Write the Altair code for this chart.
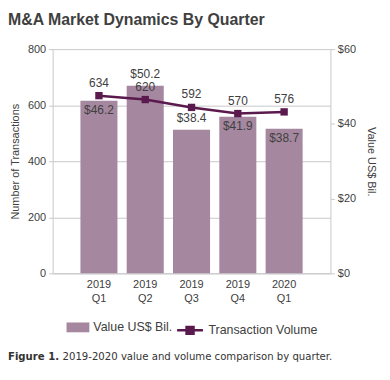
import altair as alt
import pandas as pd

quarters = ["2019 Q1", "2019 Q2", "2019 Q3", "2019 Q4", "2020 Q1"]
value_bil = [46.2, 50.2, 38.4, 41.9, 38.7]
volume = [634, 620, 592, 570, 576]
value_labels_above = ["2019 Q2", "2019 Q3"]

df = pd.DataFrame({
    "quarter": quarters,
    "value": value_bil,
    "volume": volume,
    "bar_series": ["Value US$ Bil."] * len(quarters),
    "line_series": ["Transaction Volume"] * len(quarters),
})

BAR = "#a5889f"
LINE = "#5b1a4e"
TXT = "#404040"
GRID = "#c8c8c8"
FONT = "Liberation Sans"

base = alt.Chart(df)

x = alt.X(
    "quarter:N", sort=quarters, title=None,
    scale=alt.Scale(paddingInner=0.2, paddingOuter=0.6),
    axis=alt.Axis(labelExpr="split(datum.label, ' ')", labelAngle=0, ticks=False,
                  domainColor=GRID, labelColor=TXT, labelFontSize=11, labelFont=FONT,
                  labelPadding=5, labelLineHeight=14),
)

y_val = alt.Y(
    "value:Q", scale=alt.Scale(domain=[0, 60]),
    axis=alt.Axis(orient="right", values=[0, 20, 40, 60], labelExpr="'$' + datum.value",
                  title="Value US$ Bil.", grid=False, domainColor=GRID, tickColor=GRID,
                  tickSize=4, labelColor=TXT, labelFontSize=11, labelFont=FONT,
                  titleFont=FONT, titleFontSize=11, titleFontWeight="normal",
                  titleColor=TXT, titlePadding=10, labelPadding=3),
)

y_vol = alt.Y(
    "volume:Q", scale=alt.Scale(domain=[0, 800]),
    axis=alt.Axis(orient="left", values=[0, 200, 400, 600, 800],
                  title="Number of Transactions", grid=True, gridColor=GRID,
                  domainColor=GRID, tickColor=GRID, tickSize=4, labelColor=TXT,
                  labelFontSize=11, labelFont=FONT, titleFont=FONT, titleFontSize=11,
                  titleFontWeight="normal", titleColor=TXT, titlePadding=7, labelPadding=3),
)

bars = base.mark_bar(color=BAR).encode(
    x=x, y=y_val,
    fill=alt.Fill("bar_series:N", scale=alt.Scale(range=[BAR]),
                  legend=alt.Legend(title=None, orient="none", legendX=14, legendY=269,
                                    symbolType="M-1,-0.43H1V0.43H-1Z", symbolSize=529,
                                    symbolStrokeWidth=0, labelFontSize=12.5, labelFont=FONT,
                                    labelColor=TXT, padding=0, labelOffset=4)),
)
above_pred = alt.FieldOneOfPredicate(field="quarter", oneOf=value_labels_above)
bar_labels_in = base.mark_text(fontSize=12, font=FONT, color=TXT, baseline="middle", dy=9).encode(
    x=x, y=alt.Y("value:Q"), text=alt.Text("value:Q", format="$.1f"),
).transform_filter(~above_pred)
bar_labels_above = base.mark_text(fontSize=12, font=FONT, color=TXT, baseline="middle", dy=-12).encode(
    x=x, y=alt.Y("value:Q"), text=alt.Text("value:Q", format="$.1f"),
).transform_filter(above_pred)

line = base.mark_line(color=LINE, strokeWidth=2.5).encode(x=x, y=y_vol)
points = base.mark_point(shape="square", filled=True, size=55, opacity=1).encode(
    x=x, y=alt.Y("volume:Q"),
    color=alt.Color("line_series:N", scale=alt.Scale(range=[LINE]),
                    legend=alt.Legend(title=None, orient="none", legendX=124, legendY=269,
                                      symbolType="M-1,0H1M-0.27,-0.27H0.27V0.27H-0.27Z",
                                      symbolSize=676, symbolStrokeColor=LINE,
                                      symbolStrokeWidth=2.5, labelFontSize=12.5,
                                      labelFont=FONT, labelColor=TXT, padding=0,
                                      labelOffset=4)),
)
line_labels = base.mark_text(fontSize=12, font=FONT, color=TXT, baseline="middle", dy=-13).encode(
    x=x, y=alt.Y("volume:Q"), text=alt.Text("volume:Q"),
)

cap_df = pd.DataFrame({"a": [0]})
cap_bold = alt.Chart(cap_df).mark_text(
    text="Figure 1.", font="DejaVu Sans", fontSize=10.2, fontWeight="bold",
    color="#333333", align="left", baseline="middle",
).encode(x=alt.value(-45), y=alt.value(310))
cap_rest = alt.Chart(cap_df).mark_text(
    text="2019-2020 value and volume comparison by quarter.", font="DejaVu Sans",
    fontSize=10.2, color="#333333", align="left", baseline="middle",
).encode(x=alt.value(10), y=alt.value(310))

left = alt.layer(line, points, line_labels)
right = alt.layer(bars, bar_labels_in, bar_labels_above)

chart = alt.layer(right, left, cap_bold, cap_rest).resolve_scale(
    y="independent", fill="independent", color="independent"
).properties(
    width=280, height=226,
    title=alt.Title("M&A Market Dynamics By Quarter", anchor="start", fontSize=16,
                    font=FONT, fontWeight="bold", color="#404040", offset=15),
    padding={"left": 0, "top": 3, "right": 5, "bottom": 5},
).configure_view(stroke=None)

chart.save("out.html", embed_options={"renderer": "svg", "actions": False})
